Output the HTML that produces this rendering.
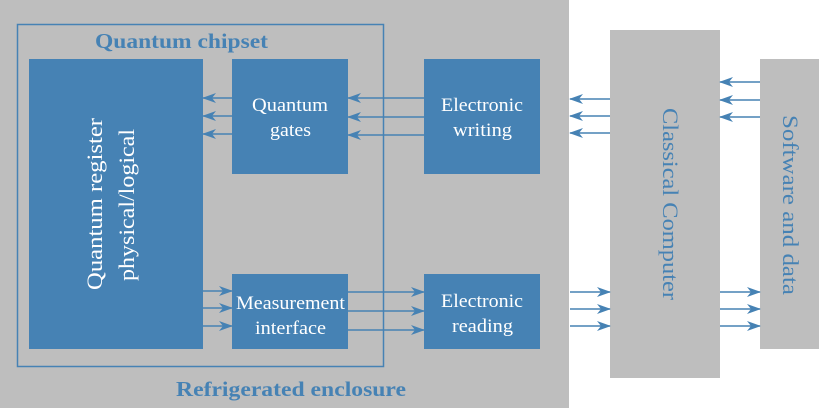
<!DOCTYPE html>
<html><head><meta charset="utf-8"><style>
html,body{margin:0;padding:0;background:#fff;}
svg{display:block;}
svg text{font-family:"Liberation Serif","DejaVu Serif",serif;}
</style></head><body>
<svg width="820" height="408" viewBox="0 0 820 408" xmlns="http://www.w3.org/2000/svg">
<defs>
<marker id="a" markerWidth="14" markerHeight="10" refX="13" refY="5" orient="auto" markerUnits="userSpaceOnUse">
<path d="M0,0 L14,5 L0,10 L4,5 Z" fill="#4682b4"/>
</marker>
</defs>
<rect x="0" y="0" width="569" height="408" fill="#bebebe"/>
<rect x="17.5" y="24.5" width="366" height="342" fill="none" stroke="#4682b4" stroke-width="1.5"/>
<text x="95" y="48" font-size="21" font-weight="bold" fill="#4682b4" textLength="173" lengthAdjust="spacingAndGlyphs">Quantum chipset</text>
<text x="176" y="396" font-size="21" font-weight="bold" fill="#4682b4" textLength="230" lengthAdjust="spacingAndGlyphs">Refrigerated enclosure</text>
<rect x="29" y="59" width="174" height="290" fill="#4682b4"/>
<rect x="232" y="59" width="116" height="115" fill="#4682b4"/>
<rect x="232" y="274" width="116" height="75" fill="#4682b4"/>
<rect x="424" y="59" width="116" height="115" fill="#4682b4"/>
<rect x="424" y="274" width="116" height="75" fill="#4682b4"/>
<rect x="610" y="30" width="110" height="348" fill="#bebebe"/>
<rect x="760" y="59" width="59" height="290" fill="#bebebe"/>
<g fill="#fff" font-size="19" lengthAdjust="spacingAndGlyphs">
<text transform="translate(102,290) rotate(-90)" font-size="22" textLength="172" lengthAdjust="spacingAndGlyphs">Quantum register</text>
<text transform="translate(134,281) rotate(-90)" font-size="22" textLength="152" lengthAdjust="spacingAndGlyphs">physical/logical</text>
<text x="252" y="111" textLength="76" lengthAdjust="spacingAndGlyphs">Quantum</text>
<text x="270" y="136" textLength="41" lengthAdjust="spacingAndGlyphs">gates</text>
<text x="441" y="111" textLength="82" lengthAdjust="spacingAndGlyphs">Electronic</text>
<text x="453" y="136" textLength="59" lengthAdjust="spacingAndGlyphs">writing</text>
<text x="236" y="309" textLength="109" lengthAdjust="spacingAndGlyphs">Measurement</text>
<text x="255" y="334" textLength="71" lengthAdjust="spacingAndGlyphs">interface</text>
<text x="441" y="307" textLength="82" lengthAdjust="spacingAndGlyphs">Electronic</text>
<text x="452" y="332" textLength="61" lengthAdjust="spacingAndGlyphs">reading</text>
</g>
<g fill="#4682b4" font-size="22">
<text transform="translate(663,108) rotate(90)" textLength="192" lengthAdjust="spacingAndGlyphs">Classical Computer</text>
<text transform="translate(783,115) rotate(90)" textLength="180" lengthAdjust="spacingAndGlyphs">Software and data</text>
</g>
<g stroke="#4682b4" stroke-width="1.5" marker-end="url(#a)">
<line x1="232" y1="98" x2="203" y2="98"/><line x1="232" y1="116" x2="203" y2="116"/><line x1="232" y1="134" x2="203" y2="134"/>
<line x1="424" y1="98" x2="348" y2="98"/><line x1="424" y1="117" x2="348" y2="117"/><line x1="424" y1="135" x2="348" y2="135"/>
<line x1="610" y1="99" x2="570" y2="99"/><line x1="610" y1="116" x2="570" y2="116"/><line x1="610" y1="133" x2="570" y2="133"/>
<line x1="760" y1="82" x2="720" y2="82"/><line x1="760" y1="100" x2="720" y2="100"/><line x1="760" y1="117" x2="720" y2="117"/>
<line x1="203" y1="291" x2="232" y2="291"/><line x1="203" y1="308" x2="232" y2="308"/><line x1="203" y1="326" x2="232" y2="326"/>
<line x1="348" y1="292" x2="424" y2="292"/><line x1="348" y1="311" x2="424" y2="311"/><line x1="348" y1="330" x2="424" y2="330"/>
<line x1="570" y1="292" x2="610" y2="292"/><line x1="570" y1="309" x2="610" y2="309"/><line x1="570" y1="326" x2="610" y2="326"/>
<line x1="720" y1="292" x2="760" y2="292"/><line x1="720" y1="309" x2="760" y2="309"/><line x1="720" y1="326" x2="760" y2="326"/>
</g>
</svg>
</body></html>
